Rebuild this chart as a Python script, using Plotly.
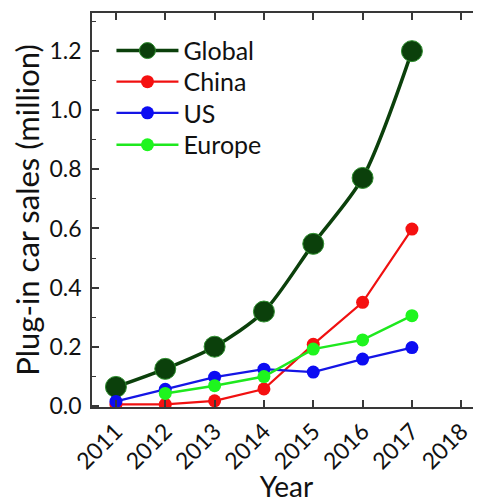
import plotly.graph_objects as go

years = [2011, 2012, 2013, 2014, 2015, 2016, 2017]
global_sales = [0.064, 0.125, 0.20, 0.319, 0.548, 0.771, 1.20]
china_sales = [0.005, 0.005, 0.017, 0.057, 0.208, 0.350, 0.598]
us_sales = [0.015, 0.056, 0.097, 0.124, 0.114, 0.158, 0.197]
europe_years = [2012, 2013, 2014, 2015, 2016, 2017]
europe_sales = [0.042, 0.068, 0.099, 0.192, 0.223, 0.305]
x_ticks = [2011, 2012, 2013, 2014, 2015, 2016, 2017, 2018]

FONT = "Lato"
AX = "#383838"

fig = go.Figure()
fig.add_trace(go.Scatter(
    x=years, y=global_sales, name="Global", mode="lines+markers", legend="legend",
    line=dict(color="#0b400b", width=3.5, shape="spline", smoothing=0.8),
    marker=dict(size=21, color="#0b400b", line=dict(color="#2f8f2f", width=1)),
))
fig.add_trace(go.Scatter(
    x=years, y=china_sales, name="China", mode="lines+markers", legend="legend2",
    line=dict(color="#f01010", width=2.2),
    marker=dict(size=13, color="#f51010"),
))
fig.add_trace(go.Scatter(
    x=years, y=us_sales, name="US", mode="lines+markers", legend="legend3",
    line=dict(color="#1515e5", width=2.2),
    marker=dict(size=13, color="#0c0cf2"),
))
fig.add_trace(go.Scatter(
    x=europe_years, y=europe_sales, name="Europe", mode="lines+markers", legend="legend4",
    line=dict(color="#1ee81e", width=2.5),
    marker=dict(size=13, color="#1ef51e"),
))

def leg(y):
    return dict(x=0.05, y=y, xanchor="left", yanchor="middle",
                bgcolor="rgba(0,0,0,0)", font=dict(size=25, family=FONT, color="#111111"),
                itemwidth=62)

fig.update_layout(
    width=473, height=495,
    margin=dict(l=84, r=0, t=5, b=96),
    paper_bgcolor="white", plot_bgcolor="white",
    font=dict(family=FONT, color="#111111", size=21),
    showlegend=True,
    legend=leg(0.904), legend2=leg(0.825), legend3=leg(0.746), legend4=leg(0.665),
)
fig.update_xaxes(
    range=[2010.515, 2018.4], tickvals=x_ticks, ticktext=[str(v) for v in x_ticks],
    tickangle=-45, ticks="inside", ticklen=7, tickwidth=1.5, tickcolor=AX,
    showline=True, linecolor=AX, linewidth=1.8, mirror="ticks",
    showgrid=False, zeroline=False, automargin=False,
    tickfont=dict(size=23, family=FONT),
    title=dict(text="Year", font=dict(size=28, family=FONT), standoff=0),
)
fig.update_yaxes(
    range=[-0.004, 1.329], tickvals=[0.0, 0.2, 0.4, 0.6, 0.8, 1.0, 1.2],
    ticktext=["0.0", "0.2", "0.4", "0.6", "0.8", "1.0", "1.2"],
    ticks="inside", ticklen=7, tickwidth=1.5, tickcolor=AX,
    minor=dict(dtick=0.1, tick0=0, ticks="inside", ticklen=4, tickwidth=1.2, tickcolor=AX),
    showline=True, linecolor=AX, linewidth=1.8,
    showgrid=False, zeroline=False, automargin=False,
    ticklabelstandoff=4,
    tickfont=dict(size=23, family=FONT),
    title=dict(text="Plug-in car sales (million)", font=dict(size=31, family=FONT), standoff=4),
)

fig.write_html("out.html")
